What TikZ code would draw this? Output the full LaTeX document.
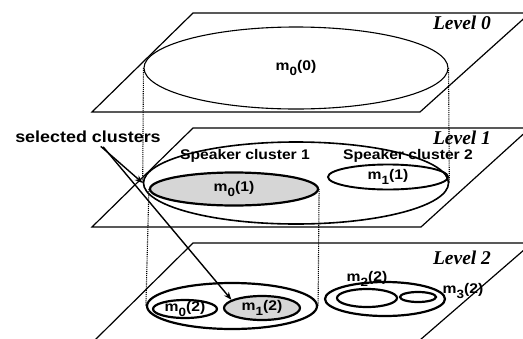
\documentclass[tikz,border=0pt]{standalone}
\usepackage{fontspec}
\setmainfont{Liberation Serif}
\newfontfamily\lblfont{Liberation Sans}[FakeStretch=1.12]
\usetikzlibrary{shapes.geometric,arrows.meta}
\newcommand{\msub}[1]{\raisebox{-4.5pt}{\fontsize{12}{12}\selectfont#1}}

\begin{document}
\begin{tikzpicture}[x=1pt,y=-1pt,
    plane/.style={draw,line width=1.2pt},
    clu/.style={ellipse,draw,line width=2.2pt,inner sep=0pt},
    chosen/.style={fill=black!16},
    cyl/.style={densely dotted,line width=1.1pt},
    lbl/.style={font=\lblfont\bfseries\fontsize{14}{16}\selectfont,inner sep=0pt},
    lev/.style={font=\bfseries\itshape\fontsize{19.5}{22}\selectfont,inner sep=0pt},
    arr/.style={-{Stealth[length=8pt,width=6pt]},line width=1.4pt}]

  \useasboundingbox (0,0) rectangle (523,338);
  \clip (0,0) rectangle (523,338);

  \draw[plane] (92,112) -- (193,13) -- (530,13) -- (420,112) -- cycle;
  \draw[plane] (92,227) -- (193,128) -- (530,128) -- (421,227) -- cycle;
  \draw[plane] (95,340) -- (193,243) -- (532,243) -- (420,340) -- cycle;

  \node[clu,line width=1.1pt,minimum width=304,minimum height=82,
        label={[lbl]center:m\msub{0}(0)}] (L0) at (296,68) {};
  \node[clu,line width=1.6pt,minimum width=305,minimum height=82] (L1) at (296,183) {};
  \node[clu,chosen,minimum width=168,minimum height=33,
        label={[lbl]center:m\msub{0}(1)}] (m01) at (234,189) {};
  \node[clu,line width=1.9pt,minimum width=120,minimum height=25,
        label={[lbl]center:m\msub{1}(1)}] (m11) at (388,177) {};
  \node[lbl] (sp1) at (245,156) {Speaker cluster 1};
  \node[lbl] (sp2) at (408,156) {Speaker cluster 2};

  \node[clu,minimum width=170,minimum height=46] (L2a) at (232,306) {};
  \node[clu,minimum width=64,minimum height=18,
        label={[lbl]center:m\msub{0}(2)}] (m02) at (185,309) {};
  \node[clu,chosen,minimum width=76,minimum height=24,
        label={[lbl]center:m\msub{1}(2)}] (m12) at (262,308) {};
  \node[clu,minimum width=120,minimum height=34] (L2b) at (385,299) {};
  \node[clu,minimum width=60,minimum height=18] (m22) at (367,298) {};
  \node[clu,minimum width=36,minimum height=10] (m32) at (418,297) {};
  \node[lbl] (t22) at (367,279) {m\msub{2}(2)};
  \node[lbl] (t32) at (463,291) {m\msub{3}(2)};

  \draw[cyl] (L0.west) -- (L1.west);
  \draw[cyl] (L0.east) -- (L1.east);
  \draw[cyl] (m01.west) -- (L2a.west);
  \draw[cyl] (m01.east) -- (L2a.east);

  \node[lbl,font=\lblfont\bfseries\fontsize{16}{18}\selectfont] (sel) at (88,137) {selected clusters};
  \draw[arr,shorten <=5pt] ([xshift=9pt]sel.south) -- (L1.west);
  \draw[arr,shorten <=5pt] ([xshift=12pt]sel.south) -- (m12.165);

  \node[lev] (lv0) at (462,23) {Level 0};
  \node[lev] (lv1) at (462,138) {Level 1};
  \node[lev] (lv2) at (462,258) {Level 2};
\end{tikzpicture}
\end{document}
